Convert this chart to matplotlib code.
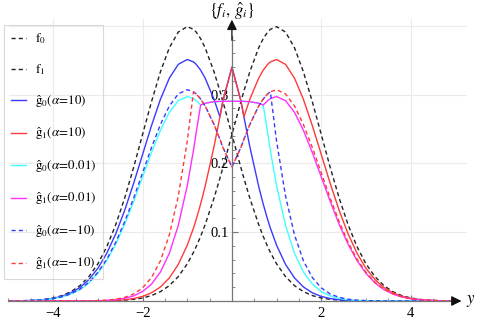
import matplotlib
matplotlib.use("Agg")
import matplotlib.pyplot as plt
from matplotlib.ticker import FixedLocator

plt.rcParams['font.family'] = ['Liberation Serif', 'DejaVu Serif']
plt.rcParams['mathtext.fontset'] = 'stix'

# sample positions along y (common to every curve)
x = [-5.0, -4.8, -4.6, -4.4, -4.2, -4.0, -3.8, -3.6, -3.4, -3.2,
     -3.0, -2.8, -2.6, -2.4, -2.2, -2.0, -1.8, -1.6, -1.4, -1.2,
     -1.0, -0.86, -0.8, -0.7, -0.6, -0.4, -0.27, -0.2,
     0.0,
     0.2, 0.27, 0.4, 0.6, 0.7, 0.8, 0.86, 1.0,
     1.2, 1.4, 1.6, 1.8, 2.0, 2.2, 2.4, 2.6, 2.8, 3.0,
     3.2, 3.4, 3.6, 3.8, 4.0, 4.2, 4.4, 4.6, 4.8, 5.0]

f0 = [0.0001, 0.0003, 0.0006, 0.0012, 0.0024, 0.0044, 0.0079, 0.0136, 0.0224, 0.0355,
      0.0540, 0.0790, 0.1109, 0.1497, 0.1942, 0.2420, 0.2897, 0.3332, 0.3683, 0.3910,
      0.3989, 0.3950, 0.3910, 0.3814, 0.3683, 0.3332, 0.3056, 0.2897,
      0.2420,
      0.1942, 0.1781, 0.1497, 0.1109, 0.0940, 0.0790, 0.0707, 0.0540,
      0.0355, 0.0224, 0.0136, 0.0079, 0.0044, 0.0024, 0.0012, 0.0006, 0.0003, 0.0001,
      0.0001, 0.0, 0.0, 0.0, 0.0, 0.0, 0.0, 0.0, 0.0, 0.0]

f1 = [0.0, 0.0, 0.0, 0.0, 0.0, 0.0, 0.0, 0.0, 0.0, 0.0001,
      0.0001, 0.0003, 0.0006, 0.0012, 0.0024, 0.0044, 0.0079, 0.0136, 0.0224, 0.0355,
      0.0540, 0.0707, 0.0790, 0.0940, 0.1109, 0.1497, 0.1781, 0.1942,
      0.2420,
      0.2897, 0.3056, 0.3332, 0.3683, 0.3814, 0.3910, 0.3950, 0.3989,
      0.3910, 0.3683, 0.3332, 0.2897, 0.2420, 0.1942, 0.1497, 0.1109, 0.0790, 0.0540,
      0.0355, 0.0224, 0.0136, 0.0079, 0.0044, 0.0024, 0.0012, 0.0006, 0.0003, 0.0001]

g0_a10 = [0.0001, 0.0003, 0.0005, 0.0011, 0.0021, 0.0039, 0.0070, 0.0120, 0.0197, 0.0312,
          0.0475, 0.0695, 0.0976, 0.1318, 0.1709, 0.2129, 0.2549, 0.2932, 0.3241, 0.3441,
          0.3511, 0.3476, 0.3441, 0.3356, 0.3241, 0.2932, 0.2680, 0.2913,
          0.3400,
          0.2913, 0.2672, 0.2246, 0.1664, 0.1410, 0.1184, 0.1061, 0.0810,
          0.0532, 0.0336, 0.0204, 0.0119, 0.0066, 0.0036, 0.0018, 0.0009, 0.0004, 0.0002,
          0.0001, 0.0, 0.0, 0.0, 0.0, 0.0, 0.0, 0.0, 0.0, 0.0]

g1_a10 = [0.0, 0.0, 0.0, 0.0, 0.0, 0.0, 0.0, 0.0, 0.0, 0.0001,
          0.0002, 0.0004, 0.0009, 0.0018, 0.0036, 0.0066, 0.0119, 0.0204, 0.0336, 0.0532,
          0.0810, 0.1061, 0.1184, 0.1410, 0.1664, 0.2246, 0.2672, 0.2913,
          0.3400,
          0.2913, 0.2680, 0.2932, 0.3241, 0.3356, 0.3441, 0.3476, 0.3511,
          0.3441, 0.3241, 0.2932, 0.2549, 0.2129, 0.1709, 0.1318, 0.0976, 0.0695, 0.0475,
          0.0312, 0.0197, 0.0120, 0.0070, 0.0039, 0.0021, 0.0011, 0.0005, 0.0003, 0.0001]

g0_a001 = [0.0001, 0.0002, 0.0005, 0.0009, 0.0018, 0.0033, 0.0059, 0.0101, 0.0167, 0.0264,
           0.0402, 0.0588, 0.0826, 0.1115, 0.1447, 0.1803, 0.2158, 0.2482, 0.2744, 0.2913,
           0.2972, 0.2943, 0.2913, 0.2850, 0.2875, 0.2898, 0.2902, 0.2903,
           0.2904,
           0.2903, 0.2902, 0.2898, 0.2875, 0.2850, 0.2447, 0.2192, 0.1674,
           0.1100, 0.0694, 0.0421, 0.0245, 0.0137, 0.0074, 0.0038, 0.0019, 0.0009, 0.0004,
           0.0002, 0.0001, 0.0, 0.0, 0.0, 0.0, 0.0, 0.0, 0.0, 0.0]

g1_a001 = [0.0, 0.0, 0.0, 0.0, 0.0, 0.0, 0.0, 0.0, 0.0001, 0.0002,
           0.0004, 0.0009, 0.0019, 0.0038, 0.0074, 0.0137, 0.0245, 0.0421, 0.0694, 0.1100,
           0.1674, 0.2192, 0.2447, 0.2850, 0.2875, 0.2898, 0.2902, 0.2903,
           0.2904,
           0.2903, 0.2902, 0.2898, 0.2875, 0.2850, 0.2913, 0.2943, 0.2972,
           0.2913, 0.2744, 0.2482, 0.2158, 0.1803, 0.1447, 0.1115, 0.0826, 0.0588, 0.0402,
           0.0264, 0.0167, 0.0101, 0.0059, 0.0033, 0.0018, 0.0009, 0.0005, 0.0002, 0.0001]

g0_am10 = [0.0001, 0.0002, 0.0005, 0.0009, 0.0018, 0.0034, 0.0061, 0.0105, 0.0172, 0.0273,
           0.0416, 0.0608, 0.0854, 0.1153, 0.1495, 0.1863, 0.2231, 0.2566, 0.2836, 0.3011,
           0.3072, 0.3042, 0.3011, 0.2937, 0.2836, 0.2566, 0.2353, 0.2231,
           0.1950,
           0.2231, 0.2353, 0.2566, 0.2836, 0.2937, 0.3011, 0.3040, 0.2322,
           0.1525, 0.0963, 0.0584, 0.0341, 0.0190, 0.0102, 0.0053, 0.0026, 0.0012, 0.0006,
           0.0003, 0.0001, 0.0, 0.0, 0.0, 0.0, 0.0, 0.0, 0.0, 0.0]

g1_am10 = [0.0, 0.0, 0.0, 0.0, 0.0, 0.0, 0.0, 0.0, 0.0001, 0.0003,
           0.0006, 0.0012, 0.0026, 0.0053, 0.0102, 0.0190, 0.0341, 0.0584, 0.0963, 0.1525,
           0.2322, 0.3040, 0.3011, 0.2937, 0.2836, 0.2566, 0.2353, 0.2231,
           0.1950,
           0.2231, 0.2353, 0.2566, 0.2836, 0.2937, 0.3011, 0.3042, 0.3072,
           0.3011, 0.2836, 0.2566, 0.2231, 0.1863, 0.1495, 0.1153, 0.0854, 0.0608, 0.0416,
           0.0273, 0.0172, 0.0105, 0.0061, 0.0034, 0.0018, 0.0009, 0.0005, 0.0002, 0.0001]

labels = [r'$\mathrm{f}_0$', r'$\mathrm{f}_1$',
          r'$\hat{\mathrm{g}}_0(\alpha\!=\!10)$', r'$\hat{\mathrm{g}}_1(\alpha\!=\!10)$',
          r'$\hat{\mathrm{g}}_0(\alpha\!=\!0.01)$', r'$\hat{\mathrm{g}}_1(\alpha\!=\!0.01)$',
          r'$\hat{\mathrm{g}}_0(\alpha\!=\!{-}10)$', r'$\hat{\mathrm{g}}_1(\alpha\!=\!{-}10)$']

fig = plt.figure(figsize=(4.8, 3.21), dpi=100)
ax = fig.add_axes([8.5/480, 20/321, 458/480, 282/321])
ax.set_xlim(-5, 5.25)
ax.set_ylim(0, 0.41)

dash = (0, (3, 2.2))
series = [
    (f0, '#222222', dash),
    (f1, '#222222', dash),
    (g0_a10, '#3a3aff', '-'),
    (g1_a10, '#ff3a3a', '-'),
    (g0_a001, '#40ffff', '-'),
    (g1_a001, '#ff30ff', '-'),
    (g0_am10, '#3a3aff', dash),
    (g1_am10, '#ff3a3a', dash),
]
for (vals, col, ls), lab in zip(series, labels):
    ax.plot(x, vals, color=col, ls=ls, lw=1.0, label=lab)

# grid
for gx in [-4, -2, 2, 4]:
    ax.axvline(gx, color='#ebebeb', lw=0.8, zorder=0)
for gy in [0.1, 0.2, 0.3, 0.4]:
    ax.axhline(gy, color='#ebebeb', lw=0.8, zorder=0)

# axes through the origin
for s in ['top', 'right']:
    ax.spines[s].set_visible(False)
ax.spines['left'].set_position(('data', 0))
ax.spines['bottom'].set_position(('data', 0))
for s in ['left', 'bottom']:
    ax.spines[s].set_color('#777777')
    ax.spines[s].set_linewidth(0.9)
ax.spines['bottom'].set_bounds(-5, 5.05)
ax.spines['left'].set_bounds(0, 0.385)

ax.xaxis.set_major_locator(FixedLocator([-4, -2, 2, 4]))
ax.xaxis.set_minor_locator(FixedLocator([v / 2 for v in range(-10, 11) if v % 4 != 0]))
ax.yaxis.set_major_locator(FixedLocator([0.1, 0.2, 0.3]))
ax.yaxis.set_minor_locator(FixedLocator([v / 50 for v in range(1, 20) if v % 5 != 0]))
ax.tick_params(which='both', direction='in', color='#777777', labelsize=10.5)
ax.tick_params(which='major', length=4, width=0.8)
ax.tick_params(which='minor', length=2.2, width=0.6)
ax.tick_params(axis='x', pad=4)
ax.tick_params(axis='y', pad=2)
ax.set_xticklabels(['\u22124', '\u22122', '2', '4'])

# arrow heads
ax.annotate('', xy=(5.2, 0), xytext=(4.95, 0), annotation_clip=False,
            arrowprops=dict(arrowstyle='-|>', color='#111111', lw=0.9, mutation_scale=15))
ax.annotate('', xy=(0, 0.413), xytext=(0, 0.375), annotation_clip=False,
            arrowprops=dict(arrowstyle='-|>', color='#111111', lw=0.9, mutation_scale=15))

fig.text(471/480, 1 - 301/321, r'$y$', fontsize=12, ha='center', va='center')
fig.text(232/480, 1 - 11/321, r'$\{f_i,\,\hat{g}_i\}$', fontsize=12, ha='center', va='center')

leg = ax.legend(loc='upper left', bbox_to_anchor=(4/480, 1 - 25/321),
                bbox_transform=fig.transFigure, borderaxespad=0, fontsize=9.4,
                handlelength=1.2, handletextpad=0.65, labelspacing=1.22,
                borderpad=0.5, fancybox=False, frameon=True)
leg.get_frame().set_facecolor('none')
leg.get_frame().set_edgecolor('#d0d0d0')
leg.get_frame().set_linewidth(0.8)

fig.savefig('out.png', dpi=100)
